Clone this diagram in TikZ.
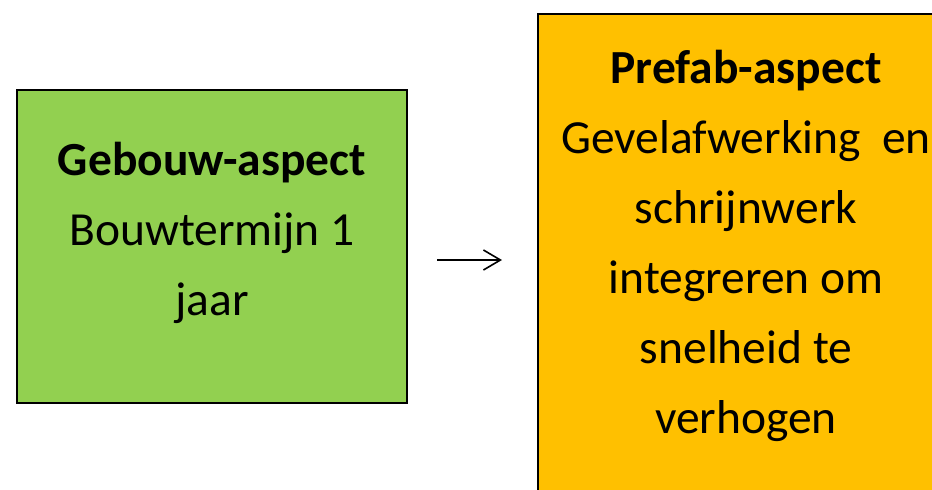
\documentclass[tikz,border=0pt]{standalone}
\usepackage{fontspec}
\setmainfont{Carlito}
\usetikzlibrary{arrows.meta}
\definecolor{boxgreen}{HTML}{92D050}
\definecolor{boxorange}{HTML}{FFC000}
\begin{document}
\begin{tikzpicture}[x=1pt,y=1pt,
  boxstyle/.style={draw=black, line width=1.2pt, inner sep=0pt, minimum width=#1},
  txt/.style={align=center, inner sep=0pt, font=\fontsize{47.5}{70}\selectfont},
  arr/.style={-{Straight Barb[length=17pt,width=20pt,line width=1.6pt]}, line width=1.6pt}]
\useasboundingbox (0,0) rectangle (932,-490);
\clip (0,0) rectangle (932,-490);
\node[boxstyle=390pt, fill=boxgreen, minimum height=313pt] (g) at (212,-246.5) {};
\node[boxstyle=416pt, fill=boxorange, minimum height=520pt] (o) at (746,-274) {};
\node[txt, anchor=base] (gt) at (212,-315) {\textbf{Gebouw-aspect}\\Bouwtermijn 1\\jaar};
\node[txt, anchor=base] (ot) at (746,-433) {\textbf{Prefab-aspect}\\Gevelafwerking\ \ en\\schrijnwerk\\integreren om\\snelheid te\\verhogen};
\coordinate (a1) at (437,-260);
\coordinate (a2) at (502,-260);
\draw[arr] (a1) -- (a2);
\end{tikzpicture}
\end{document}
